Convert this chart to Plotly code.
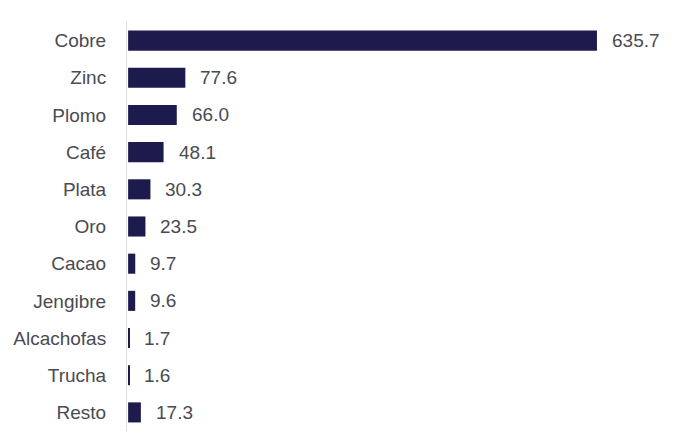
import plotly.graph_objects as go

categories = ["Cobre", "Zinc", "Plomo", "Café", "Plata", "Oro", "Cacao",
              "Jengibre", "Alcachofas", "Trucha", "Resto"]
values = [635.7, 77.6, 66.0, 48.1, 30.3, 23.5, 9.7, 9.6, 1.7, 1.6, 17.3]
value_labels = [f"{v:.1f}" for v in values]

BAR = "#1d1b4d"
TXT = "#4a4a52"
FONT = "Liberation Sans, Arial, sans-serif"

fig = go.Figure(go.Bar(
    x=values, y=categories, orientation="h",
    marker=dict(color=BAR, line=dict(width=0)),
    hoverinfo="skip",
))

for c, v, t in zip(categories, values, value_labels):
    fig.add_annotation(x=v, y=c, text=t, showarrow=False, xanchor="left",
                       yanchor="middle", xshift=13,
                       font=dict(family=FONT, size=19, color=TXT))

fig.update_layout(
    width=678, height=434,
    margin=dict(l=127, r=0, t=22, b=3),
    paper_bgcolor="white", plot_bgcolor="white",
    bargap=0.46, showlegend=False,
    font=dict(family=FONT, size=19, color=TXT),
    xaxis=dict(range=[-1.5, 745.6], visible=False, fixedrange=True),
    yaxis=dict(autorange="reversed", showline=True, linecolor="#dcdcdc",
               linewidth=1, ticks="", showgrid=False, zeroline=False,
               ticklabelstandoff=16, tickfont=dict(family=FONT, size=19, color=TXT),
               fixedrange=True),
)

fig.write_html("out.html")
